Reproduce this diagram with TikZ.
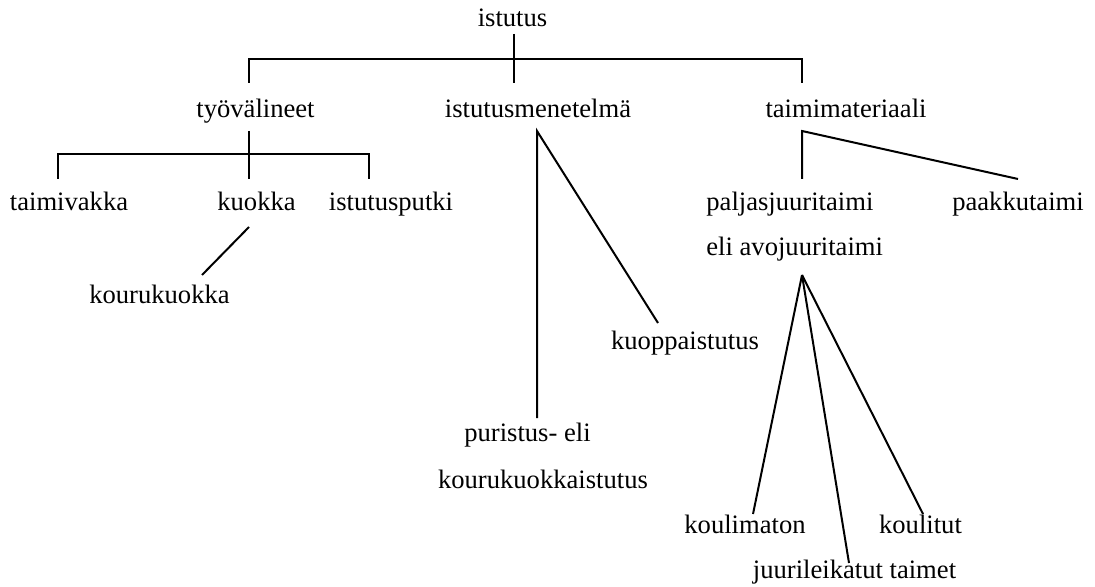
\documentclass[tikz,border=0pt]{standalone}
\usepackage{fontspec}
\setmainfont{Liberation Serif}

\begin{document}
\begin{tikzpicture}[x=0.5pt, y=-0.5pt,
  lbl/.style={inner sep=0pt, anchor=base, font=\fontsize{13.3}{16}\selectfont},
  lblw/.style={lbl, anchor=base west},
  ln/.style={line width=1pt}]
  \useasboundingbox (0,0) rectangle (1095,587);

  %% Top level
  \node[lbl] (istutus) at (512.5,27) {istutus};
  \node[lbl] (tyovalineet) at (255.5,118) {työvälineet};
  \node[lbl] (menetelma) at (538,118) {istutusmenetelmä};
  \node[lbl] (materiaali) at (846,118) {taimimateriaali};

  \coordinate (istutus-s) at (514,34);
  \coordinate (bar) at (514,59);
  \coordinate (tyo-n) at (249,83);
  \coordinate (men-n) at (514,83);
  \coordinate (mat-n) at (802,83);
  \draw[ln] (tyo-n) |- (bar) -| (mat-n);
  \draw[ln] (istutus-s) -- (men-n);

  %% Tools
  \node[lbl] (taimivakka) at (69,211) {taimivakka};
  \node[lbl] (kuokka) at (256.5,211) {kuokka};
  \node[lbl] (istutusputki) at (391,211) {istutusputki};
  \node[lbl] (kourukuokka) at (159.5,303) {kourukuokka};

  \coordinate (tyo-s) at (249,131);
  \coordinate (tyo-bar) at (249,154);
  \coordinate (vakka-n) at (58,179);
  \coordinate (kuokka-n) at (249,179);
  \coordinate (putki-n) at (369,179);
  \draw[ln] (tyo-s) -- (kuokka-n);
  \draw[ln] (vakka-n) |- (tyo-bar) -| (putki-n);

  \coordinate (kuokka-s) at (249,227);
  \coordinate (kouru-n) at (202,275);
  \draw[ln] (kuokka-s) -- (kouru-n);

  %% Planting methods
  \node[lbl] (kuoppa) at (685,349) {kuoppaistutus};
  \node[lbl] (puristus) at (527.5,441) {puristus- eli};
  \node[lbl] (kouruistutus) at (543,488) {kourukuokkaistutus};

  \coordinate (men-s) at (537,131);
  \coordinate (puristus-n) at (537,418);
  \coordinate (kuoppa-n) at (658,323);
  \draw[ln] (puristus-n) -- (men-s) -- (kuoppa-n);

  %% Seedling material
  \node[lblw] (paljas) at (706,211) {paljasjuuritaimi};
  \node[lblw] (avojuuri) at (706,256) {eli avojuuritaimi};
  \node[lbl] (paakku) at (1018,211) {paakkutaimi};

  \coordinate (mat-s) at (802,131);
  \coordinate (paljas-n) at (802,179);
  \coordinate (paakku-n) at (1018,179);
  \draw[ln] (paljas-n) -- (mat-s) -- (paakku-n);

  \node[lbl] (koulimaton) at (745,533) {koulimaton};
  \node[lbl] (koulitut) at (920.5,533) {koulitut};
  \node[lbl] (juurileikatut) at (854.5,578) {juurileikatut taimet};

  \coordinate (avo-s) at (802,275);
  \coordinate (koulimaton-n) at (753,514);
  \coordinate (juuri-n) at (849,563);
  \coordinate (koulitut-n) at (923,514);
  \draw[ln] (avo-s) -- (koulimaton-n);
  \draw[ln] (avo-s) -- (juuri-n);
  \draw[ln] (avo-s) -- (koulitut-n);
\end{tikzpicture}
\end{document}
